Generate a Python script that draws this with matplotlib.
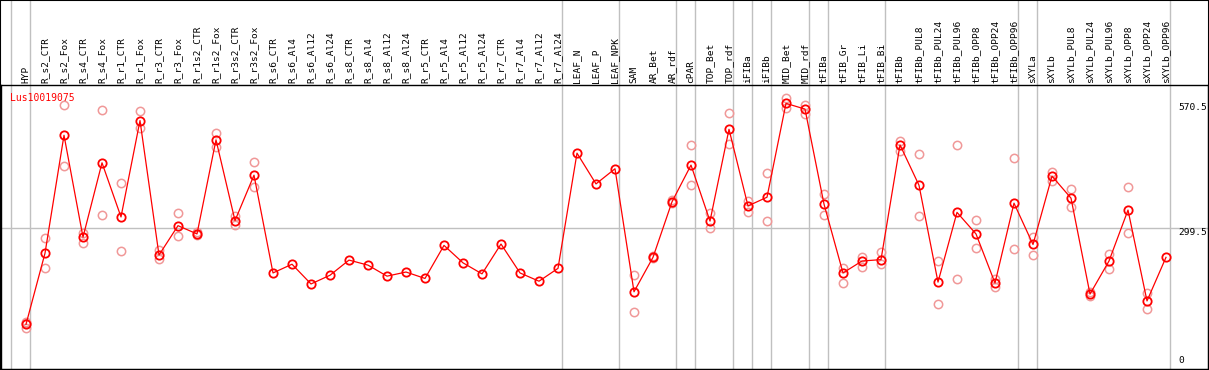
import matplotlib.pyplot as plt
import matplotlib.patches as patches

# --- dados ---
labels = ['HYP', 'R_s2_CTR', 'R_s2_Fox', 'R_s4_CTR', 'R_s4_Fox', 'R_r1_CTR', 'R_r1_Fox',
          'R_r3_CTR', 'R_r3_Fox', 'R_r1s2_CTR', 'R_r1s2_Fox', 'R_r3s2_CTR', 'R_r3s2_Fox',
          'R_s6_CTR', 'R_s6_Al4', 'R_s6_Al12', 'R_s6_Al24', 'R_s8_CTR', 'R_s8_Al4',
          'R_s8_Al12', 'R_s8_Al24', 'R_r5_CTR', 'R_r5_Al4', 'R_r5_Al12', 'R_r5_Al24',
          'R_r7_CTR', 'R_r7_Al4', 'R_r7_Al12', 'R_r7_Al24', 'LEAF_N', 'LEAF_P', 'LEAF_NPK',
          'SAM', 'AR_Bet', 'AR_rdf', 'cPAR', 'TOP_Bet', 'TOP_rdf', 'iFIBa', 'iFIBb',
          'MID_Bet', 'MID_rdf', 'tFIBa', 'tFIB_Gr', 'tFIB_Li', 'tFIB_Bi', 'tFIBb',
          'tFIBb_PUL8', 'tFIBb_PUL24', 'tFIBb_PUL96', 'tFIBb_OPP8', 'tFIBb_OPP24',
          'tFIBb_OPP96', 'sXYLa', 'sXYLb', 'sXYLb_PUL8', 'sXYLb_PUL24', 'sXYLb_PUL96',
          'sXYLb_OPP8', 'sXYLb_OPP24', 'sXYLb_OPP96']

medias = [89, 244, 501, 279, 441, 323, 533, 240, 304, 286, 491, 315, 414,
          201, 220, 177, 196, 229, 218, 194, 203, 189, 261, 223, 199, 264, 201, 183, 211,
          462, 395, 428,
          160, 235, 356, 436, 314, 514, 347, 366, 570.5, 558, 351, 201, 227, 230, 480,
          392, 181, 333, 286, 179, 353, 263, 412, 364, 155, 227, 338, 140, 235]

replicas = [[80, 92, 95], [277, 211], [566, 433], [287, 267], [555, 327], [396, 248],
            [553, 517], [251, 231], [331, 282], [291, 283], [506, 475], [326, 305],
            [442, 388],
            [], [], [], [], [], [], [], [], [], [], [], [], [], [], [], [], [], [], [],
            [197, 115], [237, 233], [359, 353], [479, 392], [332, 298], [549, 481],
            [358, 334], [418, 314], [583, 560], [567, 547], [373, 327], [212, 179],
            [236, 213], [246, 220], [489, 467],
            [460, 325], [226, 133], [479, 187], [316, 255], [187, 171], [451, 253],
            [280, 240], [422, 402], [384, 344], [159, 151], [242, 209], [388, 287],
            [158, 123], []]

linhas_grupo = [-1, 0, 28, 31, 34, 35, 37, 38, 39, 41, 42, 45, 52, 53, 60]
valor_ref = 299.5
valor_max = 570.5

# --- figura ---
fig = plt.figure(figsize=(12.09, 3.70), dpi=100)
ax = fig.add_axes([1 / 1209, 1 - 369 / 370, 1207 / 1209, 284 / 370])

x = list(range(len(labels)))
ax.set_xlim((1 - 26) / 19, (1208 - 26) / 19)
ax.set_ylim(-8.3, 610.5)

cinza = '#c0c0c0'
for g in linhas_grupo:
    ax.axvline(g + 0.21, ymin=0, ymax=369 / 284, color=cinza, lw=1, clip_on=False, zorder=1)
ax.axhline(valor_ref, color=cinza, lw=1, zorder=1)

# replicas
rx, ry = [], []
for i, r in enumerate(replicas):
    for v in r:
        rx.append(i); ry.append(v)
ax.plot(rx, ry, 'o', ls='none', mfc='none', mec='#f09898', ms=6, mew=1.1, zorder=2)

# media
ax.plot(x, medias, color='red', lw=0.9, zorder=3)
ax.plot(x, medias, 'o', ls='none', mfc='none', mec='red', ms=6, mew=1.3, zorder=4)

mono = 'DejaVu Sans Mono'
ax.text((10 - 26) / 19, 593, 'Lus10019075', color='red', fontsize=7,
        fontfamily=mono, ha='left', va='top')

xr = (1178 - 26) / 19
ax.text(xr, valor_max, f'{valor_max}', fontsize=6.8, fontfamily=mono, ha='left', va='top')
ax.text(xr, valor_ref, f'{valor_ref}', fontsize=6.8, fontfamily=mono, ha='left', va='top')
ax.text(xr, 0, '0', fontsize=6.8, fontfamily=mono, ha='left', va='bottom')

ax.xaxis.tick_top()
ax.set_xticks(x)
ax.set_xticklabels(labels, rotation=90, fontfamily=mono, fontsize=6.8)
ax.tick_params(axis='x', length=0, pad=1.5)
ax.set_yticks([])
for s in ax.spines.values():
    s.set_color('black'); s.set_linewidth(1)

fig.patches.append(patches.Rectangle((0, 0), 1, 1, transform=fig.transFigure,
                                     fill=False, edgecolor='black', lw=1.5))

fig.savefig('out.png', dpi=100)
